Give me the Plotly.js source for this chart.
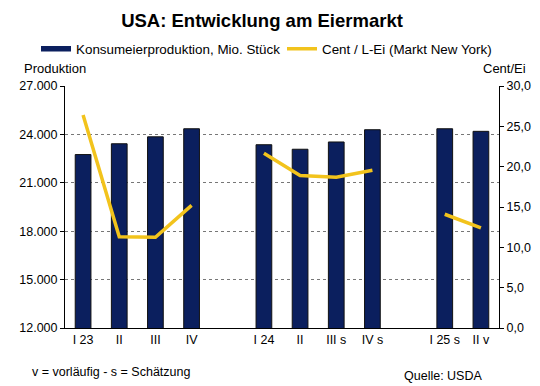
<!DOCTYPE html>
<html>
<head>
<meta charset="utf-8">
<script src="https://cdn.plot.ly/plotly-3.0.1.min.js"></script>
<style>html,body{margin:0;padding:0;background:#fff}#chart{width:540px;height:386px}</style>
</head>
<body>
<div id="chart"></div>
<script>
// Quarter categories ("" = gap slot)
const categories = ["I 23","II","III","IV","","I 24","II","III s","IV s","","I 25 s","II v"];
// Konsumeierproduktion, Mio. Stück
const production = [22750,23420,23850,24350,null,23360,23080,23530,24290,null,24350,24190];
// Cent / L-Ei (Markt New York)
const price = [26.4,11.3,11.25,15.2,null,21.65,18.9,18.7,19.55,null,14.1,12.4];
const leftTicks = [12000,15000,18000,21000,24000,27000];
const rightTicks = [0,5,10,15,20,25,30];

const xIdx = categories.map((c,i)=>i);
const tickIdx = xIdx.filter(i=>categories[i] !== "");
const tickLbl = tickIdx.map(i=>categories[i]);

const font = "Liberation Sans, Arial, sans-serif";
const PW = 434, PH = 242, PL = 65, PB = 328;
const px = v => (v-PL)/PW;
const py = v => (PB-v)/PH;

const traces = [
  {type:"bar", x:xIdx, y:production, name:"Konsumeierproduktion, Mio. Stück",
   marker:{color:"#0b1f5e", line:{color:"#111", width:1}}, yaxis:"y", showlegend:false, legendgroup:"p"},
  // legend swatch for the bars (wide rectangle, as in the original)
  {type:"scatter", mode:"lines", x:[null], y:[null], name:"Konsumeierproduktion, Mio. Stück",
   line:{color:"#0b1f5e", width:5.5}, legend:"legend", legendgroup:"p", hoverinfo:"skip"},
  {type:"scatter", mode:"lines", x:xIdx, y:price, name:"Cent / L-Ei (Markt New York)",
   line:{color:"#f2c31c", width:3.5}, yaxis:"y2", connectgaps:false, legend:"legend2"}
];

const legBase = {orientation:"h", yanchor:"middle", y:py(49), xanchor:"left",
  font:{family:font, size:13.4, color:"#000"}, bgcolor:"rgba(0,0,0,0)", itemwidth:30};

const layout = {
  width:540, height:386,
  margin:{l:65, r:41, t:86, b:58},
  paper_bgcolor:"#fff", plot_bgcolor:"#fff",
  separators:",.",
  font:{family:font, size:12, color:"#000"},
  title:{text:"<b>USA: Entwicklung am Eiermarkt</b>", font:{family:font, size:18.5, color:"#000"},
         x:262/540, xanchor:"center", y:1-21/386, yanchor:"middle"},
  bargap:0.565,
  showlegend:true,
  legend:Object.assign({}, legBase, {x:px(36)}),
  legend2:Object.assign({}, legBase, {x:px(282)}),
  xaxis:{range:[-0.5,11.5], tickmode:"array", tickvals:tickIdx, ticktext:tickLbl,
         showline:true, linecolor:"#000", linewidth:1, ticks:"", showgrid:false, zeroline:false,
         tickfont:{family:font, size:12.5}},
  yaxis:{range:[12000,27000], tickmode:"array", tickvals:leftTicks, tickformat:",d",
         showline:true, linecolor:"#000", linewidth:1, ticks:"outside", ticklen:4, tickcolor:"#000",
         showgrid:true, gridcolor:"#777", griddash:"dot", gridwidth:1, zeroline:false,
         tickfont:{family:font, size:12.5}},
  yaxis2:{range:[0,30], overlaying:"y", side:"right", tickmode:"array", tickvals:rightTicks, tickformat:".1f",
          showline:true, linecolor:"#000", linewidth:1, ticks:"outside", ticklen:4, tickcolor:"#000",
          showgrid:false, zeroline:false, tickfont:{family:font, size:12.5}},
  annotations:[
    {text:"Produktion", xref:"paper", yref:"paper", x:px(55), y:py(69), xanchor:"center", yanchor:"middle", showarrow:false, font:{family:font,size:13}},
    {text:"Cent/Ei", xref:"paper", yref:"paper", x:px(528), y:py(69), xanchor:"right", yanchor:"middle", showarrow:false, font:{family:font,size:13}},
    {text:"v = vorläufig - s = Schätzung", xref:"paper", yref:"paper", x:px(30), y:py(372), xanchor:"left", yanchor:"middle", showarrow:false, font:{family:font,size:12.5}},
    {text:"Quelle: USDA", xref:"paper", yref:"paper", x:px(484), y:py(376), xanchor:"right", yanchor:"middle", showarrow:false, font:{family:font,size:12.5}}
  ]
};

Plotly.newPlot("chart", traces, layout, {displayModeBar:false, staticPlot:true});
</script>
</body>
</html>
